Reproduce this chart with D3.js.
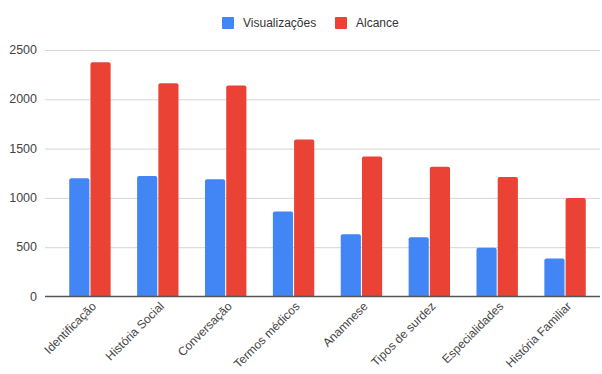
<!DOCTYPE html>
<html>
<head>
<meta charset="utf-8">
<script src="https://cdn.jsdelivr.net/npm/d3@7"></script>
<style>
  body { margin: 0; background: #fff; }
  svg { font-family: "Liberation Sans", Arial, sans-serif; }
</style>
</head>
<body>
<svg width="602" height="374"></svg>
<script>
var categories = ["Identificação", "História Social", "Conversação", "Termos médicos",
  "Anamnese", "Tipos de surdez", "Especialidades", "História Familiar"];
var seriesNames = ["Visualizações", "Alcance"];
var visualizacoes = [1200, 1222, 1190, 862, 632, 600, 495, 385];
var alcance = [2375, 2162, 2140, 1592, 1420, 1315, 1212, 1000];
var yTicks = [0, 500, 1000, 1500, 2000, 2500];
var colors = ["#4285F4", "#EA4335"];

var svg = d3.select("svg");

var x = d3.scaleBand()
  .domain(categories)
  .range([56, 599])
  .paddingInner(0.39)
  .paddingOuter(0.195);

var xs = d3.scaleBand()
  .domain(seriesNames)
  .range([0, x.bandwidth()])
  .paddingInner(0.05);

var y = d3.scaleLinear()
  .domain([0, 2500])
  .range([296.5, 50]);

// gridlines
svg.append("g").selectAll("line")
  .data(yTicks.filter(function (d) { return d > 0; }))
  .enter().append("line")
  .attr("x1", 45).attr("x2", 600)
  .attr("y1", function (d) { return y(d) + 0.5; })
  .attr("y2", function (d) { return y(d) + 0.5; })
  .attr("stroke", "#d6d6d6");

// y labels
svg.append("g").selectAll("text")
  .data(yTicks)
  .enter().append("text")
  .attr("x", 37)
  .attr("y", function (d) { return y(d) + 4; })
  .attr("text-anchor", "end")
  .attr("font-size", 12.5)
  .attr("fill", "#444")
  .text(function (d) { return d; });

// bars
var rows = categories.map(function (c, i) {
  return { cat: c, values: [visualizacoes[i], alcance[i]] };
});

var grp = svg.append("g").selectAll("g")
  .data(rows)
  .enter().append("g")
  .attr("transform", function (d) { return "translate(" + x(d.cat) + ",0)"; });

grp.selectAll("path")
  .data(function (d) { return d.values.map(function (v, j) { return { s: seriesNames[j], v: v, j: j }; }); })
  .enter().append("path")
  .attr("fill", function (d) { return colors[d.j]; })
  .attr("d", function (d) {
    var x0 = xs(d.s), w = xs.bandwidth(), top = y(d.v), bot = y(0), r = 2;
    return "M" + x0 + "," + bot + "V" + (top + r) + "Q" + x0 + "," + top + " " + (x0 + r) + "," + top +
      "H" + (x0 + w - r) + "Q" + (x0 + w) + "," + top + " " + (x0 + w) + "," + (top + r) + "V" + bot + "Z";
  });

// baseline
svg.append("line")
  .attr("x1", 45).attr("x2", 600)
  .attr("y1", y(0)).attr("y2", y(0))
  .attr("stroke", "#555").attr("stroke-width", 1.3);

// x labels
svg.append("g").selectAll("text")
  .data(categories)
  .enter().append("text")
  .attr("text-anchor", "end")
  .attr("font-size", 12)
  .attr("fill", "#444")
  .attr("transform", function (d) {
    return "translate(" + (x(d) + x.bandwidth() / 2 + 7) + ",307) rotate(-45)";
  })
  .text(function (d) { return d; });

// legend
var legend = svg.append("g");
var lx = [222, 335];
seriesNames.forEach(function (s, i) {
  legend.append("rect")
    .attr("x", lx[i]).attr("y", 17)
    .attr("width", 12).attr("height", 12)
    .attr("rx", 1)
    .attr("fill", colors[i]);
  legend.append("text")
    .attr("x", lx[i] + 21).attr("y", 27)
    .attr("font-size", 12)
    .attr("fill", "#333")
    .text(s);
});
</script>
</body>
</html>
